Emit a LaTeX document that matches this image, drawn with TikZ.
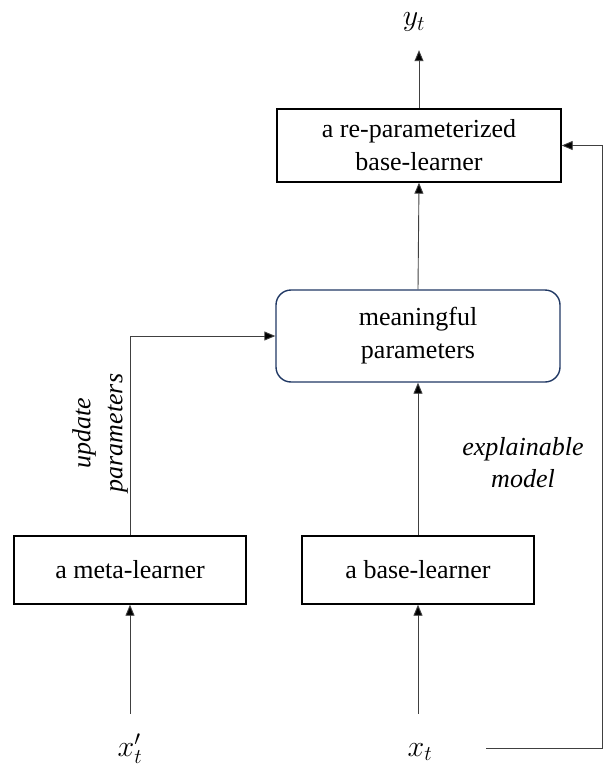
\RequirePackage{fix-cm}
\documentclass[tikz,border=0pt]{standalone}
\usepackage{fontspec}
\setmainfont{LiberationSerif}[Extension=.ttf,UprightFont=*-Regular,ItalicFont=*-Italic,BoldFont=*-Bold,BoldItalicFont=*-BoldItalic]
\usetikzlibrary{arrows.meta,calc}
\begin{document}
\begin{tikzpicture}[x=1pt,y=-1pt,
  box/.style={draw=black,line width=1.4pt,align=center,inner sep=0pt,
    font=\rmfamily\fontsize{26}{33}\selectfont},
  rbox/.style={draw={rgb,255:red,32;green,56;blue,100},line width=1.4pt,rounded corners=15pt,
    align=center,inner sep=0pt,font=\rmfamily\fontsize{26}{33}\selectfont},
  lab/.style={font=\rmfamily\fontsize{26}{32}\selectfont\itshape,align=center,inner sep=0pt},
  var/.style={font=\fontsize{30}{36}\selectfont,inner sep=0pt,anchor=base,
    text height=14pt,text depth=8pt},
  arr/.style={draw={rgb,255:red,64;green,64;blue,64},line width=0.9pt,
    -{Triangle[length=11pt,width=9pt,fill=black]}}]
\useasboundingbox (0,0) rectangle (608,768);
\node[box,minimum width=284pt,minimum height=73pt] (top) at (419,145.5) {a re-parameterized\\base-learner};
\node[rbox,minimum width=284pt,minimum height=92pt] (mean) at (418,336) {meaningful\\parameters};
\node[box,minimum width=232pt,minimum height=68pt] (meta) at (130,570) {a meta-learner};
\node[box,minimum width=232pt,minimum height=68pt] (base) at (418,570) {a base-learner};
\node[var] (yt) at (414,26) {$y_t$};
\node[var] (xtp) at (130,756) {$x'_t$};
\node[var] (xt) at (420,756) {$x_t$};
\node[lab] (lbl2) at (523,463) {explainable\\model};
\node[lab,rotate=90] (lbl1) at (100,433) {update\\parameters};
\coordinate (xs) at (486,748);
\coordinate (rc) at (602,748);
\draw[arr,shorten >=16pt] (top.north) -- (top.north |- yt.south);
\draw[arr] (mean.north) -- (top.south);
\draw[arr] (base.north) -- (mean.south);
\draw[arr] (meta.north) |- (mean.west);
\draw[arr,shorten <=28pt] (xtp.north -| meta.south) -- (meta.south);
\draw[arr,shorten <=28pt] (xt.north -| base.south) -- (base.south);
\draw[arr] (xs) -- (rc) |- (top.east);
\end{tikzpicture}
\end{document}
